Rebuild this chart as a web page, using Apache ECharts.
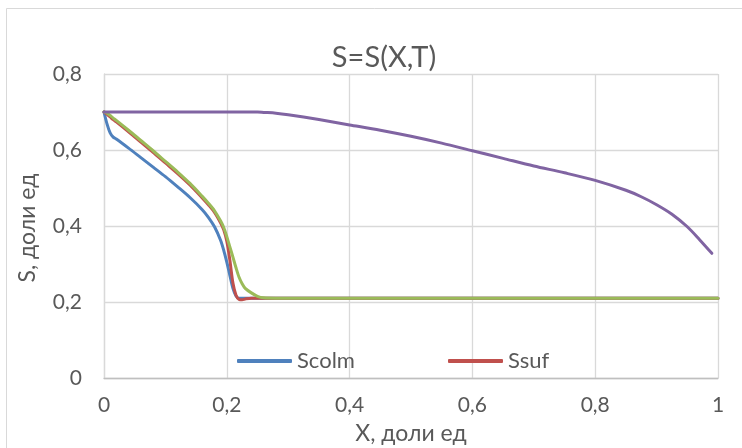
<!DOCTYPE html>
<html>
<head>
<meta charset="utf-8">
<script src="https://cdn.jsdelivr.net/npm/echarts@6/dist/echarts.min.js"></script>
<style>
  html, body { margin: 0; padding: 0; background: #fff; }
  #chart { width: 742px; height: 448px; }
</style>
</head>
<body>
<div id="chart"></div>
<script>
// Shared X grid (доли ед)
const X = [0, 0.005, 0.01, 0.015, 0.02, 0.04, 0.06, 0.08, 0.10, 0.12, 0.14, 0.16, 0.17, 0.18, 0.19, 0.195,
  0.20, 0.205, 0.21, 0.215, 0.22, 0.225, 0.23, 0.24, 0.25, 0.26, 0.28, 0.30, 0.35, 0.40, 0.45, 0.50,
  0.55, 0.60, 0.65, 0.70, 0.75, 0.80, 0.85, 0.875, 0.90, 0.925, 0.95, 0.97, 0.99, 1.00];

const scolm = [0.70, 0.668, 0.645, 0.634, 0.629, 0.605, 0.580, 0.555, 0.530, 0.503, 0.475, 0.443, 0.423, 0.398, 0.362, 0.336,
  0.305, 0.27, 0.236, 0.216, 0.21, 0.21, 0.21, 0.21, 0.21, 0.21, 0.21, 0.21, 0.21, 0.21, 0.21, 0.21,
  0.21, 0.21, 0.21, 0.21, 0.21, 0.21, 0.21, 0.21, 0.21, 0.21, 0.21, 0.21, 0.21, 0.21];

const ssuf = [0.70, 0.694, 0.687, 0.680, 0.674, 0.648, 0.621, 0.594, 0.566, 0.538, 0.508, 0.474, 0.456, 0.436, 0.408, 0.39,
  0.36, 0.31, 0.25, 0.218, 0.207, 0.206, 0.208, 0.21, 0.21, 0.21, 0.21, 0.21, 0.21, 0.21, 0.21, 0.21,
  0.21, 0.21, 0.21, 0.21, 0.21, 0.21, 0.21, 0.21, 0.21, 0.21, 0.21, 0.21, 0.21, 0.21];

const sgreen = [0.70, 0.697, 0.691, 0.684, 0.678, 0.652, 0.625, 0.598, 0.57, 0.542, 0.512, 0.478, 0.46, 0.44, 0.413, 0.396,
  0.372, 0.345, 0.318, 0.29, 0.265, 0.248, 0.236, 0.224, 0.215, 0.211, 0.21, 0.21, 0.21, 0.21, 0.21, 0.21,
  0.21, 0.21, 0.21, 0.21, 0.21, 0.21, 0.21, 0.21, 0.21, 0.21, 0.21, 0.21, 0.21, 0.21];

const spurple = [0.70, 0.70, 0.70, 0.70, 0.70, 0.70, 0.70, 0.70, 0.70, 0.70, 0.70, 0.70, 0.70, 0.70, 0.70, 0.70,
  0.70, 0.70, 0.70, 0.70, 0.70, 0.70, 0.70, 0.70, 0.70, 0.699, 0.697, 0.693, 0.68, 0.666, 0.652, 0.636,
  0.618, 0.598, 0.578, 0.558, 0.540, 0.520, 0.494, 0.477, 0.456, 0.431, 0.398, 0.364, 0.328, null];

const xTicks = [0, 0.2, 0.4, 0.6, 0.8, 1];
const yTicks = [0, 0.2, 0.4, 0.6, 0.8];

const FONT = 'Lato';
const TXT = '#595959';
const GRID = '#d9d9d9';

function pairs(vals) {
  return X.map((x, i) => [x, vals[i]]);
}

function line(name, color, vals) {
  return {
    name: name,
    type: 'line',
    data: pairs(vals),
    showSymbol: false,
    smooth: 0.3,
    connectNulls: false,
    lineStyle: { color: color, width: 3, cap: 'round', join: 'round' },
    itemStyle: { color: color },
    emphasis: { disabled: true },
    animation: false
  };
}

const fmt = v => String(v).replace('.', ',');

const chart = echarts.init(document.getElementById('chart'), null, { renderer: 'canvas' });
chart.setOption({
  backgroundColor: '#ffffff',
  animation: false,
  textStyle: { fontFamily: FONT, color: TXT },
  title: {
    text: 'S=S(X,T)',
    left: 379,
    top: 38,
    textAlign: 'center',
    textStyle: { fontFamily: FONT, fontSize: 29, fontWeight: 'normal', color: TXT }
  },
  legend: [
    {
      data: ['Scolm'],
      left: 232, top: 345,
      icon: 'roundRect', itemWidth: 55, itemHeight: 4, itemGap: 5,
      textStyle: { fontFamily: FONT, fontSize: 22, color: TXT }
    },
    {
      data: ['Ssuf'],
      left: 443, top: 345,
      icon: 'roundRect', itemWidth: 55, itemHeight: 4, itemGap: 5,
      textStyle: { fontFamily: FONT, fontSize: 22, color: TXT }
    }
  ],
  grid: { left: 104, right: 24, top: 74, bottom: 70, containLabel: false },
  xAxis: {
    type: 'value',
    min: 0, max: 1, interval: 0.2,
    axisLine: { show: true, lineStyle: { color: '#bfbfbf', width: 1.3 } },
    axisTick: { show: false },
    axisLabel: { fontFamily: FONT, fontSize: 21, color: TXT, margin: 17, formatter: fmt,
      customValues: xTicks },
    splitLine: { show: true, lineStyle: { color: GRID, width: 1.3 } }
  },
  yAxis: {
    type: 'value',
    min: 0, max: 0.8, interval: 0.2,
    axisLine: { show: true, lineStyle: { color: GRID, width: 1.3 } },
    axisTick: { show: false },
    axisLabel: { fontFamily: FONT, fontSize: 21, color: TXT, margin: 22, formatter: fmt,
      customValues: yTicks },
    splitLine: { show: true, lineStyle: { color: GRID, width: 1.3 } }
  },
  graphic: [
    {
      type: 'rect', silent: true, z: -10,
      shape: { x: 6.5, y: 8.5, width: 800, height: 500 },
      style: { fill: 'none', stroke: GRID, lineWidth: 1 }
    },
    {
      type: 'text', silent: true,
      x: 411, y: 434,
      style: { text: 'X, доли ед', fontFamily: FONT, fontSize: 23, fill: TXT, align: 'center', verticalAlign: 'middle' }
    },
    {
      type: 'text', silent: true,
      x: 28, y: 228, rotation: Math.PI / 2,
      style: { text: 'S, доли ед', fontFamily: FONT, fontSize: 23, fill: TXT, align: 'center', verticalAlign: 'middle' }
    }
  ],
  series: [
    line('Scolm', '#4F81BD', scolm),
    line('Ssuf', '#C0504D', ssuf),
    line('Sfront', '#9BBB59', sgreen),
    line('Sinit', '#8064A2', spurple)
  ]
});
</script>
</body>
</html>
